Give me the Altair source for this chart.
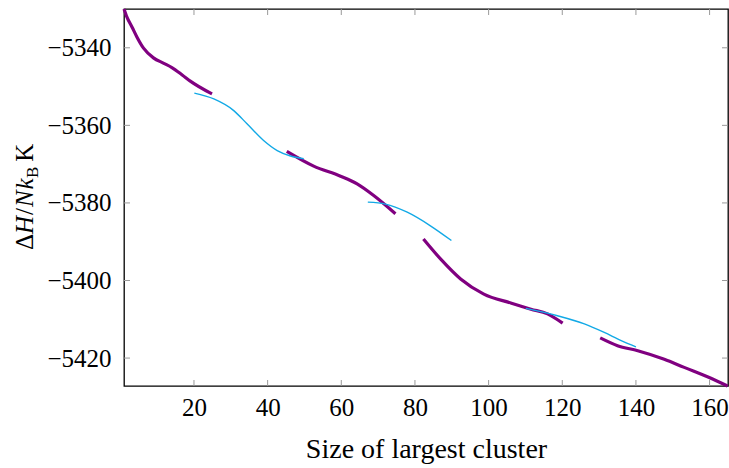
import altair as alt
import pandas as pd

# ---- data ----
p1_x = [1, 1.8, 3.2, 4.5, 6.3, 9.0, 11.8, 14.0, 16.8, 19.0, 24.9]
p1_y = [-5330, -5332.1, -5334.7, -5337.2, -5340.1, -5342.6, -5344.0, -5345.1, -5347.0, -5348.6, -5351.9]
p2_x = [45.2, 52.5, 59.8, 64.3, 68.8, 74.7]
p2_y = [-5366.7, -5370.5, -5373.1, -5375.1, -5378.1, -5382.8]
p3_x = [82.3, 87.0, 92.4, 98.7, 106.0, 111.5, 116.0, 120.1]
p3_y = [-5389.3, -5394.5, -5399.6, -5403.5, -5405.8, -5407.4, -5408.6, -5411]
p4_x = [130.3, 135, 140.5, 147.7, 153.1, 159.9, 164.9]
p4_y = [-5414.8, -5416.8, -5418.1, -5420.3, -5422.4, -5425, -5427.2]

b1_x = [20.1, 25.4, 30.8, 34.4, 38.9, 42.6, 46.2, 49.8]
b1_y = [-5351.7, -5353.2, -5356.2, -5359.6, -5363.9, -5366.5, -5367.9, -5368.6]
b2_x = [67.2, 72.0, 77.9, 84.2, 89.9]
b2_y = [-5379.8, -5380.3, -5382.4, -5385.9, -5389.7]
b3_x = [110.1, 118.7, 126, 131.4, 136, 140]
b3_y = [-5407.2, -5409.1, -5411.2, -5413.4, -5415.5, -5417.1]

x_ticks = [20, 40, 60, 80, 100, 120, 140, 160]
y_ticks = [-5340, -5360, -5380, -5400, -5420]
x_domain = [1, 165]
y_domain = [-5427.2, -5330]


def frame(segs):
    rows = []
    for i, (xs, ys) in enumerate(segs):
        for x, y in zip(xs, ys):
            rows.append({"x": x, "y": y, "seg": i})
    return pd.DataFrame(rows)


purple = frame([(p1_x, p1_y), (p2_x, p2_y), (p3_x, p3_y), (p4_x, p4_y)])
blue = frame([(b1_x, b1_y), (b2_x, b2_y), (b3_x, b3_y)])
xt_df = pd.DataFrame({"v": x_ticks})
yt_df = pd.DataFrame({"v": y_ticks})

W, H = 604, 377
F = "Liberation Serif"
TICKC = "#9a9a9a"
TL = 6
xs = alt.Scale(domain=x_domain, nice=False, zero=False)
ys = alt.Scale(domain=y_domain, nice=False, zero=False)

x_main = alt.Axis(values=x_ticks, orient="bottom", tickSize=0, domain=False, grid=False,
                  labelFont=F, labelFontSize=25, labelPadding=9, labelColor="black",
                  labelOverlap=False, labelFlush=False,
                  title="Size of largest cluster", titleFont=F, titleFontSize=28,
                  titleFontWeight="normal", titlePadding=15, titleColor="black")
y_main = alt.Axis(values=y_ticks, orient="left", tickSize=0, domain=False, grid=False,
                  format="d", labelFont=F, labelFontSize=25, labelPadding=13,
                  labelColor="black", labelOverlap=False, labelFlush=False, title=None)

purple_layer = alt.Chart(purple).mark_line(color="#800080", strokeWidth=3.2,
                                           interpolate="monotone").encode(
    x=alt.X("x:Q", scale=xs, axis=x_main),
    y=alt.Y("y:Q", scale=ys, axis=y_main),
    detail="seg:N",
)

blue_layer = alt.Chart(blue).mark_line(color="#12A9E6", strokeWidth=1.4,
                                       interpolate="monotone").encode(
    x=alt.X("x:Q", scale=xs, axis=None),
    y=alt.Y("y:Q", scale=ys, axis=None),
    detail="seg:N",
)

# inward tick marks on all four sides
tick_layers = [
    alt.Chart(xt_df).mark_rule(color=TICKC, strokeWidth=1).encode(
        x=alt.X("v:Q", scale=xs, axis=None), y=alt.value(H), y2=alt.value(H - TL)),
    alt.Chart(xt_df).mark_rule(color=TICKC, strokeWidth=1).encode(
        x=alt.X("v:Q", scale=xs, axis=None), y=alt.value(0), y2=alt.value(TL)),
    alt.Chart(yt_df).mark_rule(color=TICKC, strokeWidth=1).encode(
        y=alt.Y("v:Q", scale=ys, axis=None), x=alt.value(0), x2=alt.value(TL)),
    alt.Chart(yt_df).mark_rule(color=TICKC, strokeWidth=1).encode(
        y=alt.Y("v:Q", scale=ys, axis=None), x=alt.value(W), x2=alt.value(W - TL)),
]

# ---- y axis title built from pieces: ΔH/Nk_B K ----
one = pd.DataFrame({"a": [0]})
S = 25
base_x = -91
pieces = [  # text, italic, size, length-along-text, x shift
    ("Δ", False, S, 0.64 * S, 0),
    ("H", True, S, 0.76 * S, 0),
    ("/", False, S, 0.32 * S, 0),
    ("N", True, S, 0.70 * S, 0),
    ("k", True, S, 0.46 * S, 0),
    ("B", False, 17, 0.66 * 17 + 5, 5),
    ("K", False, S, 0.72 * S, 0),
]
title_layers = []
pos = 241
for t, it, size, length, dx in pieces:
    title_layers.append(
        alt.Chart(one).mark_text(text=t, font=F, fontSize=size, angle=270, align="left",
                                 baseline="alphabetic", color="black",
                                 fontStyle="italic" if it else "normal").encode(
            x=alt.value(base_x + dx), y=alt.value(pos))
    )
    pos -= length

chart = alt.layer(*tick_layers, purple_layer, blue_layer, *title_layers).resolve_axis(
    x="independent", y="independent"
).properties(
    width=W, height=H,
    autosize=alt.AutoSizeParams(type="none"),
    padding={"left": 124, "top": 9, "right": 1, "bottom": 82},
).configure_view(stroke="black", strokeWidth=1.3)

chart.save("out.html", embed_options={"renderer": "svg", "actions": False})
